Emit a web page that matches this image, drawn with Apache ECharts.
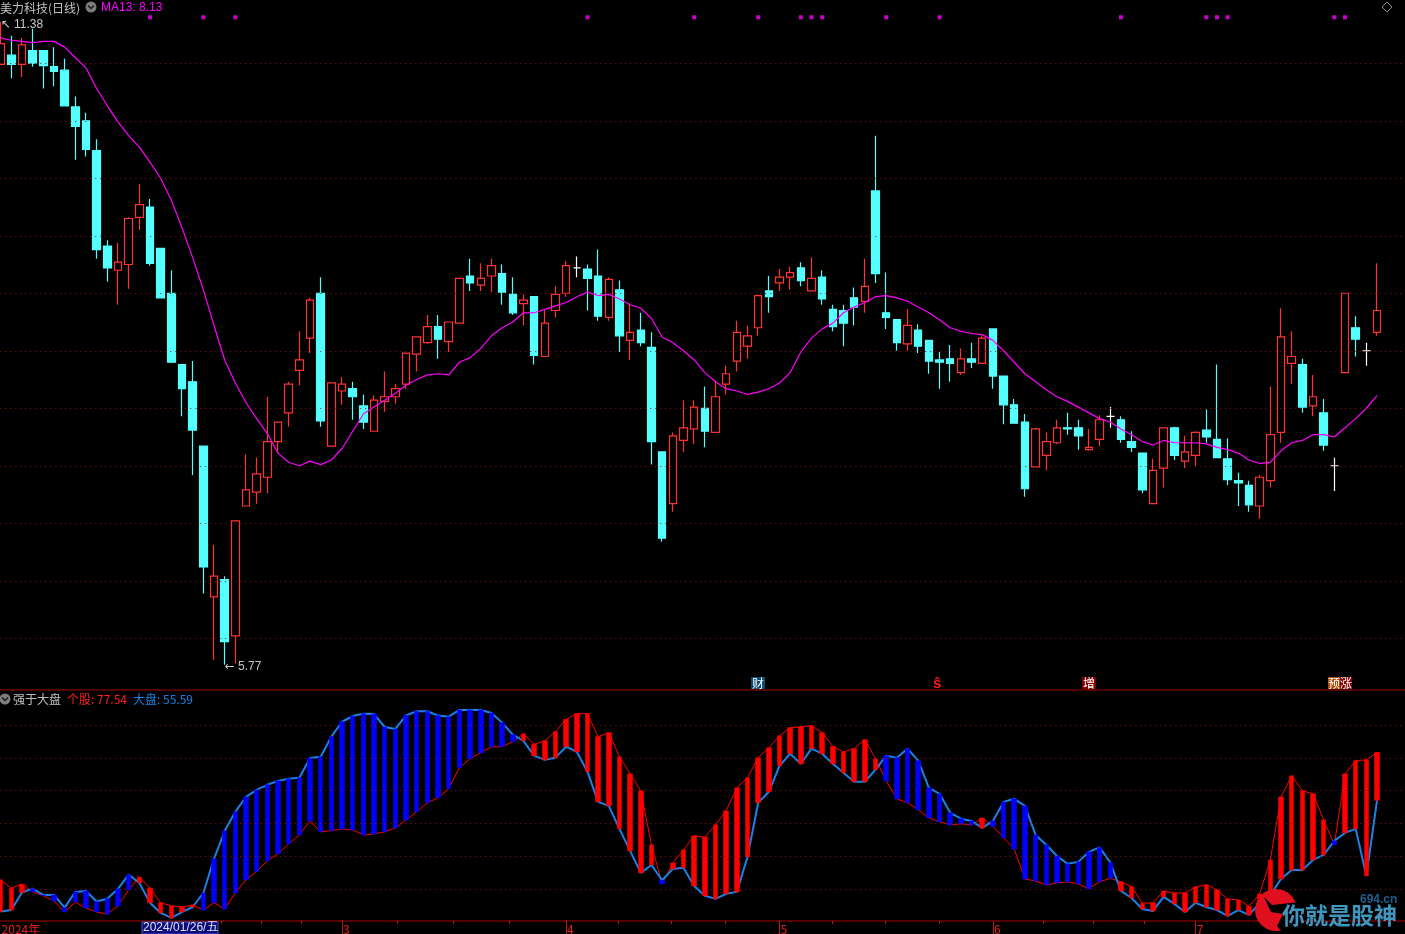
<!DOCTYPE html>
<html><head><meta charset="utf-8">
<style>html,body{margin:0;padding:0;background:#000;overflow:hidden}#c{width:1405px;height:934px}</style>
<script src="https://cdn.jsdelivr.net/npm/echarts@6/dist/echarts.min.js"></script>
</head><body><div id="c"></div>
<script>
const dates = [
'2024/01/09','2024/01/10','2024/01/11','2024/01/12','2024/01/15','2024/01/16','2024/01/17','2024/01/18','2024/01/19','2024/01/22','2024/01/23','2024/01/24','2024/01/25','2024/01/26','2024/01/29','2024/01/30','2024/01/31',
'2024/02/01','2024/02/02','2024/02/05','2024/02/06','2024/02/07','2024/02/08','2024/02/19','2024/02/20','2024/02/21','2024/02/22','2024/02/23','2024/02/26','2024/02/27','2024/02/28','2024/02/29',
'2024/03/01','2024/03/04','2024/03/05','2024/03/06','2024/03/07','2024/03/08','2024/03/11','2024/03/12','2024/03/13','2024/03/14','2024/03/15','2024/03/18','2024/03/19','2024/03/20','2024/03/21','2024/03/22','2024/03/25','2024/03/26','2024/03/27','2024/03/28','2024/03/29',
'2024/04/01','2024/04/02','2024/04/03','2024/04/08','2024/04/09','2024/04/10','2024/04/11','2024/04/12','2024/04/15','2024/04/16','2024/04/17','2024/04/18','2024/04/19','2024/04/22','2024/04/23','2024/04/24','2024/04/25','2024/04/26','2024/04/29','2024/04/30',
'2024/05/06','2024/05/07','2024/05/08','2024/05/09','2024/05/10','2024/05/13','2024/05/14','2024/05/15','2024/05/16','2024/05/17','2024/05/20','2024/05/21','2024/05/22','2024/05/23','2024/05/24','2024/05/27','2024/05/28','2024/05/29','2024/05/30','2024/05/31',
'2024/06/03','2024/06/04','2024/06/05','2024/06/06','2024/06/07','2024/06/11','2024/06/12','2024/06/13','2024/06/14','2024/06/17','2024/06/18','2024/06/19','2024/06/20','2024/06/21','2024/06/24','2024/06/25','2024/06/26','2024/06/27','2024/06/28',
'2024/07/01','2024/07/02','2024/07/03','2024/07/04','2024/07/05','2024/07/08','2024/07/09','2024/07/10','2024/07/11','2024/07/12','2024/07/15','2024/07/16','2024/07/17','2024/07/18','2024/07/19','2024/07/22','2024/07/23','2024/07/24',
' ','  ','   '];

const open = [
10.99,11.07,10.99,11.11,11.11,10.97,10.94,10.62,10.50,10.24,
9.41,9.20,9.25,9.66,9.75,9.39,9.00,8.38,8.23,7.67,
6.36,6.51,6.02,7.15,7.27,7.40,7.71,7.96,8.33,8.61,
9.00,7.67,8.15,8.17,8.02,7.80,8.06,8.10,8.21,8.47,
8.57,8.71,8.58,8.74,9.15,9.07,9.15,9.17,8.99,8.91,
8.97,8.45,8.85,9.00,9.22,9.21,9.15,8.79,9.03,8.59,
8.68,8.53,7.62,7.17,7.72,7.82,8.00,7.79,8.21,8.41,
8.54,8.70,9.02,9.09,9.14,9.22,9.02,9.14,8.86,8.85,
8.96,8.93,9.89,8.83,8.77,8.56,8.68,8.59,8.42,8.43,
8.31,8.43,8.39,8.69,8.28,8.03,7.88,7.49,7.59,7.70,
7.83,7.83,7.64,7.73,7.93,7.90,7.71,7.61,7.17,7.48,
7.83,7.54,7.59,7.81,7.73,7.56,7.37,7.33,7.15,7.37,
7.79,8.39,8.38,8.02,7.96,7.50,8.31,8.70,8.50,8.66];
const close = [
11.17,10.99,11.16,11.00,10.98,10.93,10.63,10.45,10.25,9.38,
9.22,9.27,9.65,9.77,9.26,8.96,8.40,8.17,7.81,6.62,
6.54,5.97,7.02,7.29,7.43,7.71,7.88,8.21,8.42,8.94,
7.89,8.22,8.21,8.10,7.88,8.07,8.10,8.17,8.48,8.62,
8.71,8.60,8.75,9.13,9.09,9.13,9.24,9.01,8.83,8.94,
8.46,8.74,8.99,9.24,9.22,9.13,8.80,9.12,8.63,8.66,
8.57,7.71,6.87,7.76,7.83,8.01,7.80,8.10,8.30,8.66,
8.63,8.98,8.97,9.14,9.18,9.11,9.13,8.95,8.71,8.74,
8.88,9.06,9.17,8.79,8.57,8.72,8.54,8.41,8.40,8.39,
8.43,8.40,8.61,8.28,8.03,7.87,7.30,7.82,7.71,7.83,
7.82,7.76,7.66,7.90,7.93,7.73,7.66,7.29,7.46,7.83,
7.59,7.62,7.79,7.75,7.57,7.38,7.35,7.16,7.40,7.77,
8.62,8.45,8.01,8.10,7.68,7.50,9.00,8.60,8.50,8.85];
const low = [
10.99,10.87,10.88,10.97,10.78,10.80,10.63,10.16,10.19,9.30,
9.10,8.90,9.04,9.55,9.24,8.96,8.40,7.93,7.42,6.39,
5.81,5.77,5.78,7.15,7.17,7.26,7.61,7.84,8.20,8.48,
7.84,7.67,8.03,7.90,7.82,7.80,7.97,8.04,8.17,8.32,
8.56,8.43,8.49,8.74,9.02,9.02,9.01,8.90,8.81,8.72,
8.38,8.45,8.79,8.97,9.14,8.85,8.76,8.76,8.49,8.42,
8.54,7.51,6.84,7.10,7.62,7.69,7.66,7.79,8.12,8.32,
8.43,8.63,8.83,9.02,9.03,9.06,9.02,8.90,8.67,8.54,
8.72,8.83,9.09,8.69,8.50,8.50,8.48,8.30,8.17,8.23,
8.29,8.35,8.39,8.17,7.86,7.87,7.23,7.49,7.46,7.69,
7.77,7.64,7.63,7.67,7.83,7.70,7.62,7.26,7.17,7.31,
7.55,7.48,7.50,7.70,7.57,7.33,7.15,7.10,7.04,7.31,
7.70,8.21,7.96,7.93,7.63,7.28,8.31,8.45,8.37,8.63];
const high = [
11.36,11.24,11.22,11.30,11.11,11.14,11.04,10.71,10.57,10.34,
9.46,9.44,9.66,9.95,9.82,9.39,9.20,8.38,8.41,7.67,
6.81,6.54,7.02,7.60,7.57,8.10,7.88,8.23,8.67,8.96,
9.14,8.22,8.27,8.23,8.12,8.11,8.32,8.21,8.48,8.62,
8.81,8.81,8.75,9.13,9.30,9.26,9.30,9.25,9.14,8.99,
8.97,8.86,9.06,9.28,9.32,9.25,9.38,9.14,9.11,8.91,
8.83,8.66,7.62,7.79,8.07,8.07,8.19,8.24,8.37,8.76,
8.72,8.99,9.15,9.21,9.23,9.27,9.31,9.20,8.90,8.90,
9.05,9.30,10.37,9.18,8.77,8.86,8.73,8.59,8.49,8.55,
8.52,8.57,8.63,8.69,8.28,8.08,7.95,7.83,7.79,7.90,
7.96,7.90,7.82,7.94,8.01,7.93,7.80,7.61,7.56,7.83,
7.84,7.76,7.80,7.99,8.38,7.74,7.44,7.37,7.42,8.19,
8.87,8.67,8.43,8.29,8.08,7.57,9.00,8.80,8.57,9.26];
const ma13 = [
11.22,11.20,11.19,11.18,11.19,11.19,11.14,11.05,10.96,10.78,
10.63,10.49,10.37,10.27,10.14,10.00,9.81,9.57,9.31,9.03,
8.72,8.42,8.22,8.05,7.91,7.78,7.61,7.53,7.50,7.54,
7.51,7.55,7.65,7.80,7.95,8.01,8.07,8.13,8.20,8.25,
8.29,8.30,8.29,8.40,8.44,8.52,8.63,8.70,8.75,8.83,
8.83,8.86,8.89,8.92,8.97,9.01,8.98,8.99,8.95,8.90,
8.87,8.78,8.62,8.57,8.50,8.42,8.31,8.23,8.17,8.15,
8.12,8.14,8.17,8.22,8.31,8.49,8.61,8.69,8.74,8.83,
8.88,8.92,8.97,8.98,8.96,8.93,8.88,8.83,8.77,8.70,
8.67,8.65,8.64,8.59,8.50,8.40,8.30,8.23,8.16,8.10,
8.06,8.01,7.96,7.91,7.88,7.82,7.77,7.71,7.68,7.72,
7.70,7.70,7.70,7.69,7.66,7.64,7.61,7.55,7.52,7.53,
7.63,7.70,7.72,7.77,7.77,7.75,7.83,7.91,8.00,8.11];
const stockStrength = [
19.3,15.5,17.3,13.8,12.1,9.7,4.6,9.1,6.5,4.6,
3.7,7.4,14.7,20.6,15.6,8.8,7.4,6.9,7.8,5.5,
8.8,6.0,13.3,19.3,23.2,28.0,31.2,35.7,39.8,46.2,
41.2,41.8,42.6,42.1,39.8,40.3,41.2,43.0,46.6,50.4,
54.5,56.8,60.9,70.5,74.6,77.3,80.1,80.1,82.4,86.0,
81.2,82.8,87.0,92.6,95.2,95.2,84.7,86.5,75.5,67.7,
60.0,35.3,17.4,27.0,33.0,39.4,38.8,44.4,50.8,61.3,
65.9,75.1,79.6,85.1,88.8,89.2,89.7,86.5,80.2,77.7,
79.2,83.3,74.6,64.5,56.3,54.5,51.3,47.6,45.8,44.4,
44.9,44.4,47.5,43.7,38.5,33.4,19.7,18.8,17.0,17.9,
18.4,17.4,15.2,18.4,20.0,18.4,16.2,8.6,8.8,14.2,
13.3,13.3,16.1,17.0,14.7,10.6,10.1,7.2,12.9,28.4,
57.2,66.8,60.0,58.6,46.7,35.3,67.7,73.7,74.1,77.54];
const marketStrength = [
4.8,5.5,13.5,15.3,12.4,12.4,6.6,13.8,14.2,9.4,
10.7,15.2,21.7,17.9,8.8,4.2,1.9,4.6,6.9,13.3,
28.9,41.7,50.4,57.2,60.4,62.7,64.5,65.5,65.9,74.9,
75.5,84.7,91.5,94.1,95.2,95.0,89.1,88.2,94.4,96.3,
96.3,94.3,93.8,96.9,96.9,96.9,95.5,91.1,85.6,82.8,
76.0,74.1,75.1,80.1,77.8,68.7,54.9,53.1,42.6,32.5,
22.5,26.1,19.1,24.3,24.8,16.5,12.0,10.6,12.9,13.8,
29.8,54.5,59.5,71.4,76.9,72.3,79.2,76.9,72.3,68.2,
64.1,64.1,69.6,76.0,75.1,79.2,73.7,61.3,58.6,49.9,
47.2,46.2,43.0,46.2,54.9,56.3,53.1,39.8,35.3,30.2,
26.6,27.5,32.1,34.1,27.2,14.2,11.0,6.0,5.1,11.5,
8.3,4.6,8.8,6.9,5.5,2.8,5.5,3.3,8.6,12.4,
19.7,23.8,23.8,28.4,30.7,37.1,40.8,42.6,21.1,55.59];
const signalIndex = [14,19,22,55,65,71,75,76,77,83,88,105,113,114,115,125,126];
const signalLevel = 11.40;
const priceLevels = [6,6.5,7,7.5,8,8.5,9,9.5,10,10.5,11];
const strengthLevels = [15,30,45,60,75,90];
const monthStart = {0:'2024年',32:'3',53:'4',73:'5',93:'6',112:'7'};
const minorTicks = [20.66,24.4,28.15,37.15,42.4,47.65,57.9,62.9,67.9,77.9,82.9,87.95,97.7,102.4,107.2];

const CJK = '"Noto Sans CJK SC","Liberation Sans",sans-serif';
const LAT = '"Liberation Sans","Noto Sans CJK SC",sans-serif';
const txt = (x,y,text,fill,extra={}) => ({type:'text',x,y,z:50,silent:true,style:Object.assign({text,fill,font:'12px '+CJK,textVerticalAlign:'middle'},extra)});
const chevron = (cx,cy) => [
  {type:'circle',shape:{cx,cy,r:5.5},style:{fill:'#7d7d7d'},z:50,silent:true},
  {type:'polyline',shape:{points:[[cx-3,cy-1.5],[cx,cy+1.5],[cx+3,cy-1.5]]},style:{stroke:'#1a1a1a',lineWidth:1.5,fill:'none'},z:51,silent:true}];
const levelLines = levels => ({silent:true,symbol:'none',animation:false,label:{show:false},
  lineStyle:{type:[1,4],color:'#9a1414',width:1},data:levels.map(v=>({yAxis:v}))});
const extremeRich = {a:{fontFamily:'"DejaVu Sans"',fontSize:12,color:'#c8c8c8'},b:{fontFamily:LAT,fontSize:12,color:'#c8c8c8'}};

const chart = echarts.init(document.getElementById('c'),null,{renderer:'canvas'});
const GW = 1419.1, GL = -4.73;
chart.setOption({
  animation:false, backgroundColor:'#000',
  grid:[
    {left:GL,width:GW,top:0,height:690,outerBoundsMode:'none'},
    {left:GL,width:GW,top:690,height:231,outerBoundsMode:'none',show:true,borderColor:'#a80000',borderWidth:1,backgroundColor:'transparent'}
  ],
  xAxis:[
    {type:'category',gridIndex:0,data:dates,show:false},
    {type:'category',gridIndex:1,data:dates,position:'bottom',
      axisLine:{show:false},
      axisTick:{show:true,alignWithLabel:true,length:13,lineStyle:{color:'#c01818'},interval:(i)=>i>0&&monthStart[i]!==undefined},
      axisLabel:{show:true,interval:(i)=>monthStart[i]!==undefined,formatter:(v,i)=>monthStart[i]||'',color:'#e62020',
        fontSize:12,fontFamily:CJK,align:'left',margin:2,padding:[0,0,0,1]},
      splitLine:{show:false}},
    {type:'value',gridIndex:1,position:'bottom',min:-0.5,max:132.5,axisLine:{show:false},splitLine:{show:false},
      axisLabel:{show:false},axisTick:{show:true,length:3,customValues:minorTicks,lineStyle:{color:'#c01818'}}}
  ],
  yAxis:[
    {type:'value',gridIndex:0,min:5.55,max:11.55,show:false,splitLine:{show:false}},
    {type:'value',gridIndex:1,min:0.5,max:106,show:false,splitLine:{show:false}}
  ],
  series:[
    {name:'K',type:'candlestick',xAxisIndex:0,yAxisIndex:0,barWidth:8,z:3,clip:true,
      data:open.map((o,i)=>[o,close[i],low[i],high[i]]),
      itemStyle:{color:'#000',color0:'#54ffff',borderColor:'#ff3232',borderColor0:'#54ffff',borderColorDoji:'#ffffff',borderWidth:1.2},
      markPoint:{silent:true,symbol:'circle',symbolSize:0,animation:false,data:[
        {coord:[dates[0],high[0]],value:1,label:{show:true,position:'right',offset:[-5,3],formatter:'{a|↖}{b| 11.38}',rich:extremeRich}},
        {coord:[dates[21],low[21]],value:1,label:{show:true,position:'right',offset:[-5,2],formatter:'{a|←}{b| 5.77}',rich:extremeRich}}
      ]}},
    {name:'MA13',type:'line',xAxisIndex:0,yAxisIndex:0,data:ma13,showSymbol:false,smooth:false,z:4,
      lineStyle:{color:'#ff00ff',width:1.2},markLine:levelLines(priceLevels)},
    {name:'signal',type:'scatter',xAxisIndex:0,yAxisIndex:0,symbol:'rect',symbolSize:4,z:5,
      itemStyle:{color:'#ff00ff'},data:signalIndex.map(i=>[i,signalLevel])},
    {name:'差',type:'candlestick',xAxisIndex:1,yAxisIndex:1,barWidth:5,z:4,
      data:stockStrength.map((r,i)=>[marketStrength[i],r,Math.min(r,marketStrength[i]),Math.max(r,marketStrength[i])]),
      itemStyle:{color:'#ff0000',color0:'#0000ff',borderColor:'#ff0000',borderColor0:'#0000ff',borderWidth:0.5}},
    {name:'个股',type:'line',xAxisIndex:1,yAxisIndex:1,data:stockStrength,showSymbol:false,z:3,
      lineStyle:{color:'#ff0000',width:1},markLine:levelLines(strengthLevels)},
    {name:'大盘',type:'line',xAxisIndex:1,yAxisIndex:1,data:marketStrength,showSymbol:false,z:3,
      lineStyle:{color:'#1a82e6',width:2}}
  ],
  graphic:[
    txt(0,8,'美力科技(日线)','#c0c0c0'),
    ...chevron(91,7),
    txt(101,8,'MA13: 8.13','#ff00ff',{font:'12px '+LAT}),
    {type:'polygon',shape:{points:[[1387,2],[1392,7],[1387,12],[1382,7]]},style:{fill:'none',stroke:'#8c8c8c',lineWidth:1},z:50,silent:true},
    txt(751,683,'财','#ffffff',{backgroundColor:'#0b4a72',padding:[0,1,0,1]}),
    txt(933,684,'ŝ','#ff1a1a',{font:'bold 15px '+LAT}),
    txt(1082,683,'增','#ffffff',{backgroundColor:'#800000',padding:[0,1,0,1]}),
    txt(1328,683,'预','#ffffff',{backgroundColor:'#b04a0a'}),
    txt(1340,683,'涨','#ffffff',{backgroundColor:'#800000'}),
    ...chevron(5,699),
    txt(13,699,'强于大盘','#c0c0c0'),
    txt(67,699,'个股: 77.54','#ff2020'),
    txt(133,699,'大盘: 55.59','#1a82e6'),
    {type:'rect',shape:{x:142,y:922,width:76,height:12},style:{fill:'#0a0a80',stroke:'#5050c0',lineWidth:1},z:50,silent:true},
    txt(143,928,'2024/01/26/五','#e0e0e0',{font:'12px '+LAT}),
    {type:'circle',shape:{cx:1276,cy:910,r:21},style:{fill:'#e1101e'},z:60,silent:true},
    {type:'polygon',shape:{points:[[1264,897],[1272,905],[1300,902],[1300,934],[1284,934],[1277,926],[1283,914],[1271,912]]},style:{fill:'#000'},z:61,silent:true},
    {type:'text',x:1282,y:915,z:62,silent:true,style:{text:'你就是股神',font:'bold 23px '+CJK,textVerticalAlign:'middle',fill:'#3f96bf'}},
    {type:'text',x:1360,y:900,z:62,silent:true,style:{text:'694.cn',font:'bold 12px '+LAT,textVerticalAlign:'middle',fill:'#1d5f8f'}}
  ]
});
</script></body></html>
